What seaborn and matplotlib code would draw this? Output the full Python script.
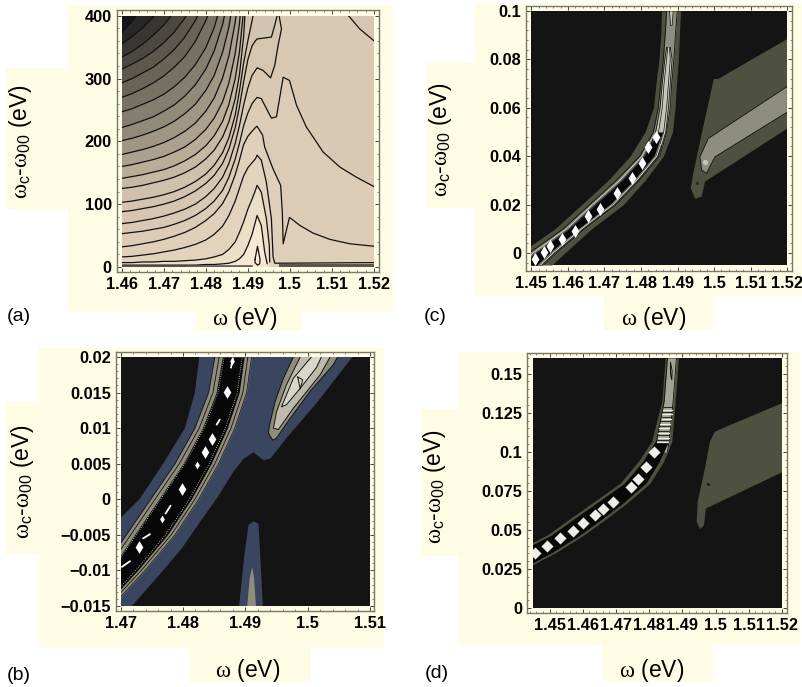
import matplotlib
matplotlib.use('Agg')
import matplotlib.pyplot as plt
from matplotlib.patches import Rectangle
from matplotlib.ticker import AutoMinorLocator
import seaborn as sns

sns.set_style('white')
plt.rcParams['font.family'] = ['Liberation Sans', 'DejaVu Sans']
plt.rcParams['mathtext.fontset'] = 'custom'
plt.rcParams['mathtext.rm'] = 'Liberation Sans'
plt.rcParams['mathtext.it'] = 'Liberation Serif'
plt.rcParams['text.color'] = 'black'
plt.rcParams['xtick.color'] = 'black'
plt.rcParams['ytick.color'] = 'black'

W, H = 802, 687
CREAM = '#fffce6'
BLACK = '#141414'
OLIVE = '#4f5140'
NAVY = '#3a4660'
TAN = '#8f8c7c'

# ---- panel (a): contour lines ----
a_grid = [1.46, 1.4625, 1.465, 1.4675, 1.47, 1.4725, 1.475, 1.4775, 1.48,
          1.482, 1.484, 1.4855, 1.487, 1.488, 1.489, 1.49, 1.491, 1.4918]
a_through_top = [
    [373, 391, 414, 440, 472, 513, 565, 635, 732, 843, 900, 900, 900, 900, 900, 900, 900, 900],
    [355, 367, 381, 398, 418, 444, 477, 522, 583, 654, 758, 875, 900, 900, 900, 900, 900, 900],
    [334, 343, 355, 369, 385, 406, 433, 469, 519, 577, 661, 756, 900, 900, 900, 900, 900, 900],
    [315, 323, 332, 343, 357, 374, 396, 425, 466, 513, 581, 659, 779, 900, 900, 900, 900, 900],
    [293, 300, 309, 318, 331, 346, 366, 392, 429, 471, 533, 603, 711, 822, 900, 900, 900, 900],
    [270, 276, 284, 293, 304, 318, 335, 359, 392, 430, 485, 548, 644, 744, 900, 900, 900, 900],
    [247, 252, 259, 266, 275, 287, 302, 322, 349, 381, 428, 480, 561, 644, 777, 900, 900, 900],
    [222, 227, 233, 239, 248, 258, 272, 290, 315, 344, 386, 434, 507, 583, 704, 900, 900, 900],
    [201, 205, 210, 216, 223, 232, 244, 259, 281, 305, 342, 382, 446, 510, 614, 799, 900, 900],
    [179, 183, 187, 192, 198, 206, 216, 229, 248, 269, 301, 336, 390, 446, 536, 696, 900, 900],
    [160, 163, 167, 171, 176, 183, 191, 203, 219, 237, 263, 293, 340, 387, 463, 599, 900, 900],
    [141, 144, 147, 151, 155, 161, 169, 179, 193, 209, 232, 259, 300, 342, 409, 528, 809, 900],
    [125, 127, 130, 134, 138, 143, 150, 159, 172, 186, 207, 231, 268, 306, 367, 476, 729, 900],
    [103, 105, 108, 111, 115, 120, 127, 136, 148, 162, 182, 206, 242, 280, 325, 360, 392, 420],
]
a_peaked = [
    [88, 90, 93, 96, 100, 105, 112, 121, 133, 146, 165, 188, 222, 255, 295, 330, 352, 360],
    [69, 71, 74, 77, 81, 86, 92, 100, 112, 125, 143, 165, 197, 225, 258, 285, 305, 313],
    [53, 55, 57, 60, 63, 68, 74, 82, 93, 105, 122, 143, 172, 197, 225, 245, 260, 267],
    [32, 34, 37, 40, 44, 49, 55, 63, 74, 85, 101, 120, 147, 170, 195, 208, 216, 222],
    [16, 17, 19, 21, 24, 27, 31, 36, 43, 52, 65, 82, 105, 125, 145, 158, 166, 172],
    [7, 7, 8, 8, 9, 9, 10, 11, 13, 16, 20, 28, 40, 55, 72, 92, 108, 122],
    [3, 3, 3, 3, 3, 3, 3, 3, 4, 4, 5, 6, 9, 13, 20, 34, 52, 72],
]
a_tail_x = [
    [1.4922, 1.4956, 1.4964, 1.4970, 1.4971],
    [1.4922, 1.4936, 1.4954, 1.4964, 1.4972, 1.4980, 1.4974, 1.4973],
    [1.4922, 1.4932, 1.4956, 1.4968, 1.4984, 1.4999, 1.5016, 1.5039, 1.5079, 1.5119, 1.5158, 1.52],
    [1.4922, 1.4935, 1.4940, 1.4960, 1.4978, 1.4982, 1.4984, 1.4999, 1.5024, 1.5055, 1.5095, 1.5142, 1.52],
    [1.4922, 1.4932, 1.4944, 1.4956, 1.4960, 1.4964, 1.52],
    [1.4922, 1.4932, 1.4944, 1.4951, 1.4952],
    [1.4922, 1.4932, 1.4940, 1.4946],
]
a_tail_y = [
    [363, 366, 385, 401, 420],
    [317, 313, 301, 321, 353, 379, 401, 420],
    [270, 268, 237, 239, 302, 297, 257, 223, 183, 159, 143, 128],
    [224, 210, 191, 156, 130, 87, 37, 79, 66, 54, 44, 37, 33],
    [178, 170, 135, 77, 16, 6, 7],
    [130, 119, 77, 34, 8],
    [82, 66, 24, 5],
]
a_corner_x = [1.5138, 1.5166, 1.52, 1.52]
a_corner_y = [401, 379, 360, 401]
a_loop_x = [1.4917, 1.4923, 1.4929, 1.4928, 1.4923, 1.4917, 1.4917]
a_loop_y = [12, 33, 12, 5, 3, 7, 12]
a_palette = (sns.blend_palette(['#15151c', '#5d584d', '#928a79', '#c6b8a2'], 13)
             + sns.blend_palette(['#cfc1ab', '#d9c9b3', '#e3d3bd', '#fff2dd'], 10))

# ---- panel (b) ----
b_navy_x = [1.4826, 1.4819, 1.4803, 1.4768, 1.4730, 1.47, 1.47, 1.4718, 1.4742, 1.4768, 1.4798, 1.4827,
            1.4854, 1.4881, 1.4897, 1.4913, 1.4929, 1.494, 1.4966, 1.5014, 1.5068, 1.5072]
b_navy_y = [.02, .015, .01, .005, 0, -.0026, -.015, -.015, -.0126, -.01, -.0069, -.0032,
            .0001, .0039, .0057, .0066, .0055, .0057, .0086, .0135, .0196, .02]
b_ridge_y = [-.015, -.0137, -.01, -.005, 0, .005, .01, .015, .02]
b_tan_l = [1.463, 1.464, 1.467, 1.4709, 1.4748, 1.4787, 1.4819, 1.4841, 1.4851]
b_tan_r = [1.469, 1.47, 1.4739, 1.4787, 1.4825, 1.4857, 1.4883, 1.4902, 1.491]
b_core_l = [1.4643, 1.4653, 1.4683, 1.4722, 1.4761, 1.48, 1.4831, 1.4853, 1.4863]
b_core_r = [1.4678, 1.4688, 1.4727, 1.4775, 1.4813, 1.4845, 1.4871, 1.489, 1.4898]
b_mid_l = [1.4637, 1.4647, 1.4677, 1.4716, 1.4755, 1.4794, 1.4826, 1.4848, 1.4858]
b_mid_r = [1.4684, 1.4694, 1.4733, 1.4781, 1.4819, 1.4851, 1.4877, 1.4896, 1.4904]
b_speck_l = [1.4646, 1.4656, 1.4686, 1.4725, 1.4764, 1.4803, 1.4834, 1.4856, 1.4866]
b_speck_r = [1.4675, 1.4685, 1.4724, 1.4772, 1.481, 1.4842, 1.4868, 1.4887, 1.4895]
b_bump_x = [1.489, 1.4899, 1.4905, 1.4913, 1.4921, 1.4925, 1.4928]
b_bump_y = [-.015, -.0074, -.0036, -.0031, -.0034, -.0097, -.015]
b_bump_in_x = [1.4903, 1.4907, 1.4911, 1.4914, 1.4917]
b_bump_in_y = [-.015, -.0111, -.0095, -.0111, -.015]
b_arm_x = [1.4977, 1.4961, 1.4948, 1.4939, 1.4937, 1.4944, 1.495, 1.4972, 1.5004, 1.5041, 1.5048]
b_arm_y = [.02, .017, .0138, .0105, .0093, .0083, .0086, .0114, .0152, .0189, .02]
b_arm_mid_x = [1.4988, 1.4966, 1.495, 1.4945, 1.4953, 1.4977, 1.502, 1.5036]
b_arm_mid_y = [.02, .0161, .0123, .01, .0098, .0128, .0175, .02]
b_arm_in_x = [1.5006, 1.4977, 1.4958, 1.4966, 1.4988, 1.5014, 1.5022]
b_arm_in_y = [.02, .017, .013, .0133, .0156, .0185, .02]
b_arm_mark_x = [1.4984, 1.4992, 1.4988, 1.4984]
b_arm_mark_y = [.0172, .0168, .0155, .0172]
b_spot_x = [1.473, 1.4799, 1.4836, 1.4847, 1.4871]
b_spot_y = [-.0067, .0015, .0066, .0085, .0151]
b_small_x = [1.4823, 1.4766, 1.4879]
b_small_y = [.0048, -.0028, .0195]
b_dash_x = [[1.4702, 1.4715], [1.4736, 1.4747], [1.4772, 1.478], [1.4854, 1.4859], [1.4877, 1.488]]
b_dash_y = [[-.0095, -.0087], [-.0055, -.0049], [-.002, -.0009], [.0105, .0112], [.0185, .0198]]

# ---- panel (c) ----
c_ridge_y = [-.005, 0, .01, .02, .03, .04, .05, .06, .07, .08, .09, .1]
c_olive_l = [1.4435, 1.447, 1.4565, 1.4638, 1.471, 1.477, 1.4811, 1.4834, 1.4841, 1.4849, 1.4854, 1.4856]
c_olive_r = [1.4556, 1.4592, 1.4665, 1.4752, 1.4811, 1.4861, 1.4886, 1.4893, 1.4897, 1.4902, 1.4905, 1.4908]
c_gray_l = [1.4455, 1.4495, 1.4588, 1.466, 1.4733, 1.4797, 1.4834, 1.4847, 1.4854, 1.4861, 1.4866, 1.487]
c_gray_r = [1.4535, 1.457, 1.4647, 1.4733, 1.4797, 1.4852, 1.487, 1.488, 1.4884, 1.489, 1.4894, 1.4899]
c_core_y = [-.005, 0, .01, .02, .03, .04, .05]
c_core_l = [1.4475, 1.4515, 1.4605, 1.4677, 1.475, 1.481, 1.4845]
c_core_r = [1.4515, 1.455, 1.463, 1.4715, 1.478, 1.4835, 1.486]
c_dark_l = [1.446, 1.45, 1.4592, 1.4664, 1.4737, 1.48, 1.4836]
c_dark_r = [1.453, 1.4565, 1.4643, 1.4729, 1.4793, 1.4848, 1.4868]
c_stripe_a = [1.4465, 1.4505, 1.4597, 1.4668, 1.4742, 1.4803, 1.484]
c_stripe_b = [1.4525, 1.456, 1.4638, 1.4724, 1.4788, 1.4843, 1.4865]
c_stripe_c = [1.447, 1.451, 1.4601, 1.4672, 1.4746, 1.4806, 1.4842]
c_stripe_d = [1.452, 1.4555, 1.4634, 1.472, 1.4784, 1.4839, 1.4862]
c_light_y = [.045, .05, .06, .07, .08, .085]
c_light_l = [1.4828, 1.484, 1.4852, 1.4858, 1.4865, 1.487]
c_light_r = [1.4858, 1.4868, 1.4875, 1.488, 1.4885, 1.488]
c_upper_a = [1.4838, 1.4848, 1.4858, 1.4863, 1.487, 1.4873]
c_upper_b = [1.4852, 1.4862, 1.487, 1.4875, 1.488, 1.4878]
c_top_x = [1.4878, 1.4888, 1.4885, 1.4881, 1.4878]
c_top_y = [.1, .1, .094, .094, .1]
c_spot_x = [1.451, 1.4535, 1.4551, 1.4585, 1.4619, 1.4656, 1.4688, 1.4733, 1.4774, 1.4802, 1.482, 1.4841]
c_spot_y = [-.0025, .0004, .0027, .0059, .0089, .0151, .0181, .0247, .0308, .037, .0438, .048]
c_arm_x = [1.4999, 1.5011, 1.52, 1.52, 1.4975, 1.4966, 1.4948, 1.4936, 1.4943, 1.4966]
c_arm_y = [.0719, .0719, .0884, .0514, .0295, .0233, .0223, .0267, .0329, .0493]
c_strip_x = [1.52, 1.52, 1.5002, 1.4979, 1.4966, 1.4961, 1.4984, 1.52]
c_strip_y = [.0688, .0582, .0397, .0329, .0343, .0397, .0473, .0688]

# ---- panel (d) ----
d_ridge_y = [.0278, .0359, .0466, .0573, .067, .0798, .0937, .1065, .1322, .16]
d_olive_l = [1.4392, 1.4392, 1.4492, 1.4562, 1.4627, 1.4712, 1.4767, 1.4807, 1.4838, 1.4848]
d_olive_r = [1.445, 1.4522, 1.4602, 1.4672, 1.4732, 1.4802, 1.4843, 1.4868, 1.4878, 1.4888]
d_core_y = [.0278, .0359, .0466, .0573, .067, .0798, .0937, .1065]
d_core_l = [1.4405, 1.4405, 1.4505, 1.4575, 1.464, 1.4725, 1.478, 1.4818]
d_core_r = [1.444, 1.451, 1.459, 1.466, 1.472, 1.479, 1.483, 1.4858]
d_gray_y = [.1, .1065, .1322, .16]
d_gray_l = [1.4815, 1.4822, 1.4845, 1.4855]
d_gray_r = [1.4855, 1.486, 1.4872, 1.4882]
d_zebra_y = [.106, .109, .112, .115, .118, .121, .124, .127]
d_zebra_l = [1.4824, 1.4826, 1.4828, 1.483, 1.4834, 1.4838, 1.484, 1.4843]
d_zebra_r = [1.4858, 1.4859, 1.486, 1.4861, 1.4864, 1.4866, 1.4868, 1.4869]
d_mark_x = [1.4864, 1.4869, 1.4868, 1.4864, 1.4864]
d_mark_y = [.157, .152, .146, .15, .157]
d_spot_x = [1.4457, 1.4492, 1.453, 1.457, 1.46, 1.4637, 1.4662, 1.4692, 1.4745, 1.4767, 1.479, 1.4814]
d_spot_y = [.0349, .0398, .0451, .0494, .0545, .0595, .0633, .068, .0772, .0826, .09, .0997]
d_arm_x = [1.4998, 1.52, 1.52, 1.4971, 1.4965, 1.4953, 1.4943, 1.4946, 1.4968, 1.4983]
d_arm_y = [.1129, .1311, .0868, .0637, .053, .0505, .0552, .068, .0894, .1065]

a_xticks = [1.46, 1.47, 1.48, 1.49, 1.5, 1.51, 1.52]
a_xlabels = ['1.46', '1.47', '1.48', '1.49', '1.5', '1.51', '1.52']
a_yticks = [0, 100, 200, 300, 400]
b_xticks = [1.47, 1.48, 1.49, 1.5, 1.51]
b_xlabels = ['1.47', '1.48', '1.49', '1.5', '1.51']
b_yticks = [-.015, -.01, -.005, 0, .005, .01, .015, .02]
b_ylabels = ['\u22120.015', '\u22120.01', '\u22120.005', '0', '0.005', '0.01', '0.015', '0.02']
c_xticks = [1.45, 1.46, 1.47, 1.48, 1.49, 1.5, 1.51, 1.52]
c_xlabels = ['1.45', '1.46', '1.47', '1.48', '1.49', '1.5', '1.51', '1.52']
c_yticks = [0, .02, .04, .06, .08, .1]
c_ylabels = ['0', '0.02', '0.04', '0.06', '0.08', '0.1']
d_yticks = [0, .025, .05, .075, .1, .125, .15]
d_ylabels = ['0', '0.025', '0.05', '0.075', '0.1', '0.125', '0.15']

YLABEL = r'$\omega_{\mathrm{c}}$-$\omega_{\mathrm{00}}$ (eV)'
XLABEL = r'$\omega$ (eV)'

fig = plt.figure(figsize=(W / 100, H / 100), dpi=100, facecolor='white')


def cream(x0, y0, x1, y1):
    fig.add_artist(Rectangle((x0 / W, 1 - y1 / H), (x1 - x0) / W, (y1 - y0) / H,
                             transform=fig.transFigure, color=CREAM, lw=0, zorder=-5))


def panel(frame, plot, xr, yr, xticks, xlabels, yticks, ylabels, base):
    fl, ft, fr, fb = frame
    pl, pt, pr, pb = plot
    ax = fig.add_axes([fl / W, 1 - fb / H, (fr - fl) / W, (fb - ft) / H])
    ax.set_facecolor(CREAM)
    sx = (xr[1] - xr[0]) / (pr - pl)
    sy = (yr[1] - yr[0]) / (pb - pt)
    ax.set_xlim(xr[0] - (pl - fl) * sx, xr[1] + (fr - pr) * sx)
    ax.set_ylim(yr[0] - (fb - pb) * sy, yr[1] + (pt - ft) * sy)
    ax.autoscale(False)
    ax.plot_clip = Rectangle((xr[0], yr[0]), xr[1] - xr[0], yr[1] - yr[0], transform=ax.transData)
    ax.add_patch(Rectangle((xr[0], yr[0]), xr[1] - xr[0], yr[1] - yr[0], color=base, lw=0, zorder=0.5))
    ax.set_xticks(xticks, xlabels, fontweight='bold', fontsize=11.8)
    ax.set_yticks(yticks, ylabels, fontweight='bold', fontsize=11.8)
    ax.xaxis.set_minor_locator(AutoMinorLocator(5))
    ax.yaxis.set_minor_locator(AutoMinorLocator(5))
    ax.tick_params(which='major', direction='in', length=3, width=0.7, color='#444440',
                   top=True, right=True, bottom=True, left=True, pad=3.5)
    ax.tick_params(which='minor', direction='in', length=1.5, width=0.5, color='#555550',
                   top=True, right=True, bottom=True, left=True)
    for s in ax.spines.values():
        s.set_color('#77776a')
        s.set_linewidth(1.0)
    return ax


def region(ax, xs, ys, color):
    for p in ax.fill(xs, ys, color=color, lw=0, zorder=1):
        p.set_clip_path(ax.plot_clip)


def band(ax, y, left, right, color):
    ax.fill_betweenx(y, left, right, color=color, lw=0, zorder=1).set_clip_path(ax.plot_clip)


def line(ax, xs, ys, color='#111111', lw=0.9, ls='-'):
    sns.lineplot(x=xs, y=ys, estimator=None, sort=False, color=color, linewidth=lw, linestyle=ls,
                 ax=ax, zorder=2)
    ax.lines[-1].set_clip_path(ax.plot_clip)


def spots(ax, xs, ys, size, marker='d', color='white'):
    sns.scatterplot(x=xs, y=ys, marker=marker, s=size, color=color, linewidth=0, ax=ax, zorder=3)
    ax.collections[-1].set_clip_path(ax.plot_clip)


# cream backing and axis labels, all in reference pixels
for box in [(68, 5, 393, 312), (196, 312, 302, 331), (6, 68, 68, 209),
            (475, 3, 802, 296), (604, 296, 713, 330), (426, 63, 475, 208),
            (39, 348, 384, 648), (190, 648, 311, 682), (6, 402, 39, 554),
            (458, 352, 800, 645), (602, 645, 713, 682), (421, 409, 458, 556)]:
    cream(*box)

for tx, ty, s, rot in [(245, 318, XLABEL, 0), (20, 142, YLABEL, 90),
                       (654, 318, XLABEL, 0), (441, 140, YLABEL, 90),
                       (248, 670, XLABEL, 0), (22, 482, YLABEL, 90),
                       (652, 671, XLABEL, 0), (435, 487, YLABEL, 90)]:
    fig.text(tx / W, 1 - ty / H, s, fontsize=16.5, rotation=rot, ha='center', va='center')
for tx, ty, s in [(7, 317, '(a)'), (424, 317, '(c)'), (7, 675, '(b)'), (425, 674, '(d)')]:
    fig.text(tx / W, 1 - ty / H, s, fontsize=14, ha='left', va='center')

# --- (a) ---
ax = panel((116.7, 10, 379, 272), (121.7, 15.7, 374, 267), (1.46, 1.52), (0, 400),
           a_xticks, a_xlabels, a_yticks, [str(v) for v in a_yticks], a_palette[0])
level = 1
for curve in a_through_top:
    region(ax, a_grid + [1.52, 1.52, 1.46], curve + [900, -5, -5], a_palette[level])
    level += 1
outlines = []
for curve, tx, ty in zip(a_peaked, a_tail_x, a_tail_y):
    xs = a_grid + tx
    ys = curve + ty
    if tx[-1] < 1.4965:
        region(ax, xs + [tx[-1], 1.46], ys + [-5, -5], a_palette[level])
    elif tx[-1] < 1.5:
        region(ax, xs + [1.52, 1.52, 1.46], ys + [420, -5, -5], a_palette[level])
    else:
        region(ax, xs + [1.52, 1.46], ys + [-5, -5], a_palette[level])
    if level == 15:
        corner_color = a_palette[level]
    level += 1
    outlines.append((xs, ys))
region(ax, a_corner_x, a_corner_y, corner_color)
region(ax, a_loop_x, a_loop_y, a_palette[22])
for curve in a_through_top:
    line(ax, a_grid, curve)
for xs, ys in outlines:
    line(ax, xs, ys)
line(ax, a_corner_x[:3], a_corner_y[:3])
line(ax, a_loop_x, a_loop_y)
band(ax, [0.3, 5], [1.4975, 1.4975], [1.52, 1.52], '#5d564a')
line(ax, [1.46, 1.474, 1.476, 1.491], [0.8, 0.8, 1.5, 1.5], color='#55504a', lw=1.2)

# --- (b) ---
ax = panel((115.7, 352, 374, 611), (120.7, 357, 370, 606), (1.47, 1.51), (-.015, .02),
           b_xticks, b_xlabels, b_yticks, b_ylabels, BLACK)
region(ax, b_navy_x, b_navy_y, NAVY)
region(ax, b_bump_x, b_bump_y, NAVY)
region(ax, b_bump_in_x, b_bump_in_y, TAN)
band(ax, b_ridge_y, b_tan_l, b_tan_r, TAN)
band(ax, b_ridge_y, b_core_l, b_core_r, '#080808')
line(ax, b_tan_l, b_ridge_y, lw=0.5)
line(ax, b_tan_r, b_ridge_y, lw=0.5)
line(ax, b_mid_l, b_ridge_y, lw=0.6)
line(ax, b_mid_r, b_ridge_y, lw=0.6)
line(ax, b_speck_l, b_ridge_y, color='#cfcfc4', lw=0.6, ls=':')
line(ax, b_speck_r, b_ridge_y, color='#cfcfc4', lw=0.6, ls=':')
region(ax, b_arm_x, b_arm_y, TAN)
line(ax, b_arm_x, b_arm_y, lw=0.7)
region(ax, b_arm_mid_x, b_arm_mid_y, '#bdbbab')
line(ax, b_arm_mid_x, b_arm_mid_y, lw=0.7)
region(ax, b_arm_in_x, b_arm_in_y, '#d9d7c9')
line(ax, b_arm_in_x, b_arm_in_y, lw=0.7)
line(ax, b_arm_mark_x, b_arm_mark_y, lw=0.7)
spots(ax, b_spot_x, b_spot_y, 42)
spots(ax, b_small_x, b_small_y, 16)
for dx, dy in zip(b_dash_x, b_dash_y):
    line(ax, dx, dy, color='white', lw=1.3)

# --- (c) ---
ax = panel((526, 5.7, 792, 271), (531.3, 11, 787.3, 265), (1.45, 1.52), (-.005, .1),
           c_xticks, c_xlabels, c_yticks, c_ylabels, BLACK)
band(ax, c_ridge_y, c_olive_l, c_olive_r, OLIVE)
band(ax, c_ridge_y, c_gray_l, c_gray_r, '#8d8d80')
band(ax, c_core_y, c_dark_l, c_dark_r, '#2c2c28')
band(ax, c_light_y, c_light_l, c_light_r, '#c6c6b8')
band(ax, c_core_y, c_core_l, c_core_r, '#060606')
region(ax, c_top_x, c_top_y, '#c6c6b8')
line(ax, c_gray_l, c_ridge_y, lw=0.6)
line(ax, c_gray_r, c_ridge_y, lw=0.6)
line(ax, c_stripe_a, c_core_y, color='#d8d8cc', lw=0.7)
line(ax, c_stripe_b, c_core_y, color='#d8d8cc', lw=0.7)
line(ax, c_stripe_c, c_core_y, color='#8a8a80', lw=0.6)
line(ax, c_stripe_d, c_core_y, color='#8a8a80', lw=0.6)
line(ax, c_light_l, c_light_y, lw=0.6)
line(ax, c_light_r, c_light_y, lw=0.6)
line(ax, c_upper_a, c_light_y, lw=0.5)
line(ax, c_upper_b, c_light_y, lw=0.5)
line(ax, c_top_x, c_top_y, lw=0.5)
spots(ax, c_spot_x, c_spot_y, 44)
region(ax, c_arm_x, c_arm_y, OLIVE)
region(ax, c_strip_x, c_strip_y, '#8d8d80')
line(ax, c_strip_x, c_strip_y, lw=0.6)
spots(ax, [1.4974], [.0374], 14, marker='o', color='#c6c6b8')
spots(ax, [1.4952], [.0288], 5, marker='o', color='#2a2a22')

# --- (d) ---
ax = panel((527, 353, 787, 613), (533, 358, 782, 608), (1.445, 1.52), (0, .16),
           c_xticks, c_xlabels, d_yticks, d_ylabels, BLACK)
band(ax, d_ridge_y, d_olive_l, d_olive_r, OLIVE)
band(ax, d_gray_y, d_gray_l, d_gray_r, '#a3a395')
band(ax, d_core_y, d_core_l, d_core_r, '#080808')
line(ax, d_gray_l, d_gray_y, lw=0.6)
line(ax, d_gray_r, d_gray_y, lw=0.6)
for zy, zl, zr in zip(d_zebra_y, d_zebra_l, d_zebra_r):
    line(ax, [zl, zr], [zy, zy], color='#efefe6', lw=0.9)
    line(ax, [zl, zr], [zy + .0015, zy + .0015], lw=0.6)
line(ax, d_mark_x, d_mark_y, lw=0.7)
spots(ax, d_spot_x, d_spot_y, 38, marker='D', color='#eeeee6')
region(ax, d_arm_x, d_arm_y, OLIVE)
spots(ax, [1.4978], [.0794], 5, marker='o', color='#1c1c18')

fig.savefig('out.png', dpi=100)
